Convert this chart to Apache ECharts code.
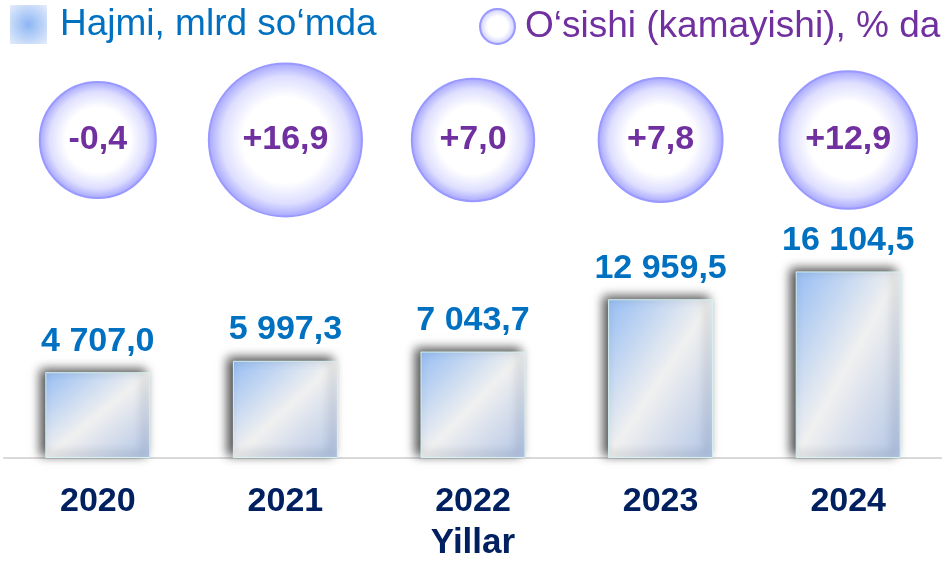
<!DOCTYPE html>
<html lang="uz">
<head>
    <meta charset="UTF-8">
    <title>Hajmi va o‘sishi</title>
    <script src="https://cdn.jsdelivr.net/npm/echarts@6/dist/echarts.min.js"></script>
    <style>
        *{ padding:0; margin:0; }
        body{ background:#fff; }
        #chart{ width:942px; height:562px; }
    </style>
</head>
<body>
<div id="chart"></div>
<script type="text/javascript">
    // data
    var years = ['2020', '2021', '2022', '2023', '2024'];
    var hajmi = [4707.0, 5997.3, 7043.7, 12959.5, 16104.5];   // mlrd so'm
    var osishi = [-0.4, 16.9, 7.0, 7.8, 12.9];                 // %

    var nameBar = 'Hajmi, mlrd so‘mda';
    var nameBubble = 'O‘sishi (kamayishi), % da';
    var font = '"Liberation Sans", Arial, sans-serif';
    var yMin = -5000, yMax = 20000;

    function fmtNum(v){
        var p = v.toFixed(1).split('.');
        return p[0].replace(/\B(?=(\d{3})+(?!\d))/g, ' ') + ',' + p[1];
    }
    function fmtPct(v){
        return (v > 0 ? '+' : '') + v.toFixed(1).replace('.', ',');
    }
    // diagonal sheen: white band running corner to corner whatever the bar shape
    function barGrad(w, h){
        var d = h * h + w * w;
        return new echarts.graphic.LinearGradient(0, 0, 2 * h * h / d, 2 * w * w / d, [
            {offset: 0, color: '#96bdf3'},
            {offset: 0.5, color: '#f0f0f0'},
            {offset: 1, color: '#b1c4e6'}
        ]);
    }
    var bubbleFill = new echarts.graphic.RadialGradient(0.5, 0.5, 0.5, [
        {offset: 0, color: '#ffffff'},
        {offset: 0.55, color: '#ffffff'},
        {offset: 0.82, color: '#dedeff'},
        {offset: 1, color: '#a4a4ff'}
    ]);
    var legendSquare = new echarts.graphic.RadialGradient(0.5, 0.5, 0.7, [
        {offset: 0, color: '#8db6f4'},
        {offset: 1, color: '#e2ebfb'}
    ]);

    var myChart = echarts.init(document.getElementById('chart'));
    var option = {
        backgroundColor: '#fff',
        animation: false,
        textStyle: {fontFamily: font},
        legend: [{
            left: 5, top: 0,
            itemWidth: 37, itemHeight: 39,
            selectedMode: false,
            data: [{name: nameBar, icon: 'rect', itemStyle: {color: legendSquare, borderWidth: 0, shadowBlur: 0}}],
            textStyle: {color: '#0070c0', fontSize: 37, fontFamily: font, padding: [9, 0, 0, 8]}
        }, {
            left: 474, top: 3,
            itemWidth: 35, itemHeight: 35,
            selectedMode: false,
            data: [{name: nameBubble, icon: 'circle', itemStyle: {color: bubbleFill, borderColor: '#9999ff', borderWidth: 2}}],
            textStyle: {color: '#7030a0', fontSize: 37, fontFamily: font, padding: [8, 0, 0, 5]}
        }],
        grid: [
            {left: 4, width: 945, top: 237, bottom: 101},
            {left: 4, width: 945, top: 60, height: 160}
        ],
        xAxis: [{
            type: 'category', gridIndex: 0, data: years,
            axisLine: {onZero: false, lineStyle: {color: '#d9d9d9', width: 2}},
            axisTick: {show: false},
            axisLabel: {color: '#002060', fontSize: 34, fontWeight: 'bold', margin: 27, fontFamily: font},
            name: 'Yillar', nameLocation: 'middle', nameGap: 68,
            nameTextStyle: {color: '#002060', fontSize: 35, fontWeight: 'bold', fontFamily: font}
        }, {
            type: 'category', gridIndex: 1, data: years, show: false
        }],
        yAxis: [{
            type: 'value', gridIndex: 0, min: yMin, max: yMax, startValue: yMin, show: false
        }, {
            type: 'value', gridIndex: 1, min: -1, max: 1, show: false
        }],
        series: [{
            name: nameBar, type: 'bar', xAxisIndex: 0, yAxisIndex: 0,
            barWidth: 105, startValue: yMin,
            data: hajmi,
            itemStyle: {
                color: barGrad(105, 150),
                borderColor: '#d4f2f2', borderWidth: 1,
                shadowColor: 'rgba(0,0,0,0.7)', shadowBlur: 10,
                shadowOffsetX: -5, shadowOffsetY: -3
            },
            label: {
                show: true, position: 'top', distance: 14,
                color: '#0070c0', fontSize: 34, fontWeight: 'bold', fontFamily: font,
                formatter: function(p){ return fmtNum(p.value); }
            }
        }, {
            name: nameBubble, type: 'scatter', xAxisIndex: 1, yAxisIndex: 1,
            data: osishi.map(function(g, i){ return [years[i], 0, g]; }),
            symbolSize: function(val){ return 116 + 0.13 * val[2] * val[2]; },
            itemStyle: {color: bubbleFill, borderColor: '#9999ff', borderWidth: 2, opacity: 1},
            label: {
                show: true, position: 'inside',
                color: '#7030a0', fontSize: 34, fontWeight: 'bold', fontFamily: font,
                formatter: function(p){ return fmtPct(p.value[2]); }
            },
            emphasis: {disabled: true}
        }]
    };
    myChart.setOption(option);

    // per-bar gradient so the sheen runs corner to corner like the original
    var base = myChart.convertToPixel({yAxisIndex: 0}, yMin);
    myChart.setOption({
        series: [{
            name: nameBar,
            data: hajmi.map(function(v){
                var h = Math.max(1, base - myChart.convertToPixel({yAxisIndex: 0}, v));
                return {value: v, itemStyle: {color: barGrad(105, h)}};
            })
        }]
    });
</script>
</body>
</html>
